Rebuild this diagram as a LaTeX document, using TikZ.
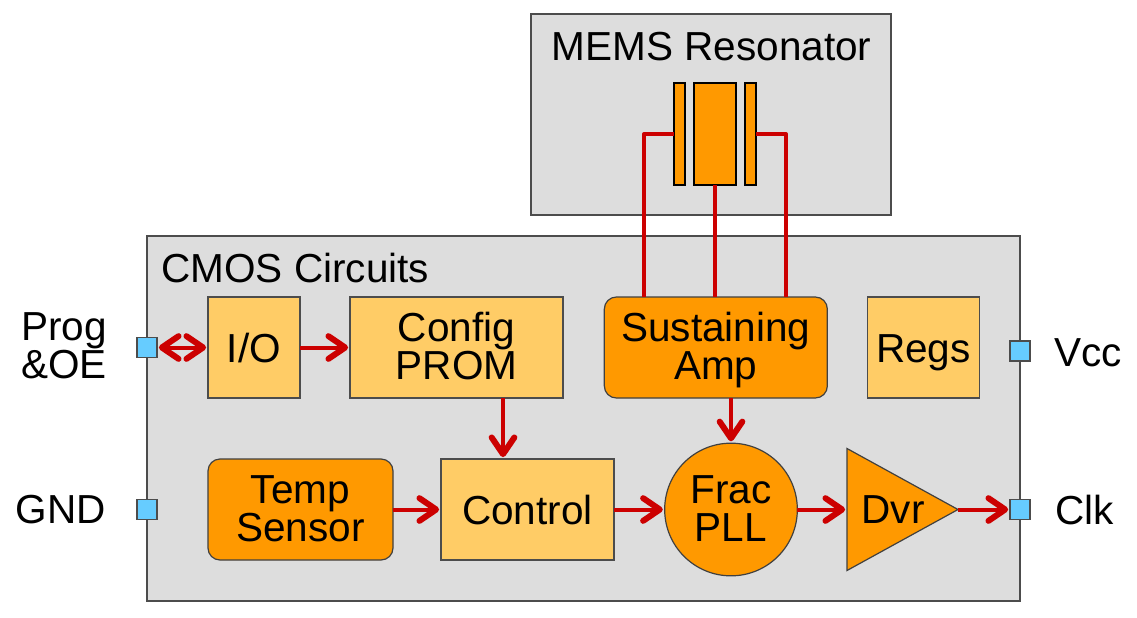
\documentclass[tikz,border=0pt]{standalone}
\usepackage{fontspec}
\setmainfont{Liberation Sans}
\usetikzlibrary{arrows.meta,positioning,shapes.geometric}
\definecolor{panelgry}{HTML}{DDDDDD}
\definecolor{blockorg}{HTML}{FF9900}
\definecolor{blocklt}{HTML}{FFCC66}
\definecolor{wirered}{HTML}{CC0000}
\definecolor{portblu}{HTML}{66CCFF}
\tikzset{
  panel/.style={draw=black!70,line width=1.2pt,fill=panelgry,inner sep=0pt,outer sep=0pt},
  lt/.style={draw=black!70,line width=1.1pt,fill=blocklt,inner sep=0pt,outer sep=0pt,
             align=center,minimum height=75.75pt},
  org/.style={draw=black!75,line width=.9pt,fill=blockorg,rounded corners=9pt,inner sep=0pt,
              outer sep=0pt,align=center,minimum height=75.75pt},
  one/.style={text height=22.4pt,text depth=0pt},
  two/.style={text height=47.6pt,text depth=0pt},
  plate/.style={draw=black,line width=1.3pt,fill=blockorg,inner sep=0pt,outer sep=0pt,minimum height=76.5pt},
  port/.style={draw=black!70,line width=1.1pt,fill=portblu,inner sep=0pt,outer sep=0pt,minimum size=15pt},
  lbl/.style={inner sep=0pt,align=center},
  wire/.style={draw=wirered,line width=3pt,line join=round},
  barb/.tip={Straight Barb[length=12.5pt,width=17pt,line width=4.5pt,round]},
  ar/.style ={wire,-barb,shorten >=1.4pt},
  dar/.style={wire,barb-barb,shorten >=1.4pt,shorten <=1.4pt},
}
\begin{document}
\begin{tikzpicture}[x=.75pt,y=-.75pt,font=\fontsize{30.4}{28.5}\selectfont,node distance=37.5pt and 30pt]
  \useasboundingbox (0,0) rectangle (1137,617);
  % panels
  \node[panel,minimum width=270pt,minimum height=150.75pt] (mems) at (711,114.5) {};
  \node[panel,minimum width=654.75pt,minimum height=273.75pt] (cmos) at (583.5,418.5) {};
  \node[lbl,anchor=base] (memstxt) at (711.5,60.5) {MEMS Resonator};
  \node[lbl,anchor=base west] (cmostxt) at (161,282) {CMOS Circuits};
  % resonator
  \node[plate,minimum width=31.5pt] (reson) at (715,134) {};
  \node[plate,minimum width=8.25pt,left=7pt of reson] (lplate) {};
  \node[plate,minimum width=8.25pt,right=7pt of reson] (rplate) {};
  % top row
  \node[lt,one,minimum width=69pt] (io) at (254,347.5) {I/O};
  \node[lt,two,minimum width=159.75pt,right=37.5pt of io] (cfg) {Config\\PROM};
  \node[org,two,minimum width=167.25pt,right=31pt of cfg] (amp) {Sustaining\\Amp};
  \node[lt,one,minimum width=84pt,right=30pt of amp] (regs) {Regs};
  % bottom row
  \node[org,two,minimum width=138.75pt] (temp) at (300.5,509.5) {Temp\\Sensor};
  \node[lt,one,minimum width=129.75pt,right=36pt of temp] (ctl) {Control};
  \node[circle,two,draw=black!75,line width=.9pt,fill=blockorg,inner sep=0pt,outer sep=0pt,
        minimum size=99.5pt,align=center,right=38pt of ctl] (pll) {Frac\\PLL};
  \node[isosceles triangle,isosceles triangle apex angle=57.6,isosceles triangle stretches,
        draw=black!75,line width=.9pt,fill=blockorg,inner sep=0pt,outer sep=0pt,
        minimum width=91.5pt,minimum height=83.25pt,anchor=lower side] (dvr) at (847,509.5) {};
  \node[lbl,anchor=base] (dvrtxt) at (893,523.5) {Dvr};
  % ports
  \node[port] (prog) at (147,347.5) {};
  \node[port] (gnd) at (147,509.5) {};
  \node[port] (vcc) at (1020,351) {};
  \node[port] (clk) at (1020,509.5) {};
  \node[lbl,anchor=base] (progtxt) at (64,378) {Prog\\\&OE};
  \node[lbl,anchor=base] (gndtxt) at (61,523.5) {GND};
  \node[lbl,anchor=base west] (vcctxt) at (1054,366) {Vcc};
  \node[lbl,anchor=base west] (clktxt) at (1055,524) {Clk};
  % wires
  \coordinate (ampl) at (644,297);
  \coordinate (ampr) at (786,297);
  \coordinate (cfgout) at (503,398);
  \draw[wire] (lplate.west) -| (ampl);
  \draw[wire] (rplate.east) -| (ampr);
  \draw[wire] (reson.south) -- (reson.south |- amp.north);
  \draw[dar] (prog.east) -- (io.west);
  \draw[ar] (io) -- (cfg);
  \draw[ar] (cfgout) -- (cfgout |- ctl.north);
  \draw[ar] (pll.north |- amp.south) -- (pll.north);
  \draw[ar] (temp) -- (ctl);
  \draw[ar] (ctl) -- (pll);
  \draw[ar] (pll.east) -- (dvr.lower side);
  \draw[ar] (dvr.apex) -- (clk.west);
\end{tikzpicture}
\end{document}
